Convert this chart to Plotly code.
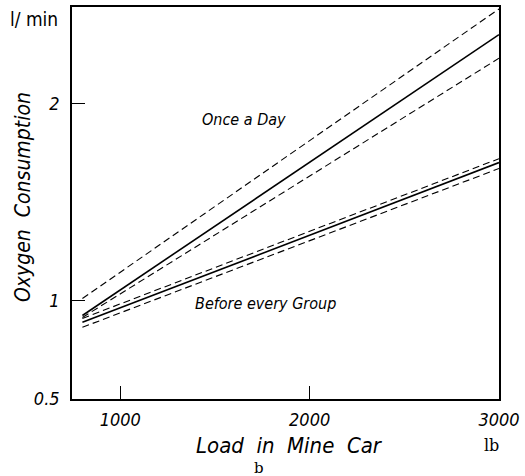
import plotly.graph_objects as go

# Load in mine car (lb)
load = [800, 3000]

# Oxygen consumption (l/min)
once_mean = [0.924, 2.35]
once_upper = [1.01, 2.48]
once_lower = [0.914, 2.23]

group_mean = [0.889, 1.70]
group_upper = [0.909, 1.72]
group_lower = [0.864, 1.67]

x_ticks = [1000, 2000, 3000]
x_tick_labels = ["1000", "2000", "3000"]
y_ticks = [0.5, 1, 2]
y_tick_labels = ["0.5", "1", "2"]

FONT = "DejaVu Sans Condensed"

fig = go.Figure()

def add(y, dash, width):
    fig.add_trace(go.Scatter(x=load, y=y, mode="lines",
                             line=dict(color="black", width=width, dash=dash),
                             showlegend=False, hoverinfo="skip"))

add(once_upper, "7px,4px", 1.1)
add(once_mean, "solid", 1.6)
add(once_lower, "7px,4px", 1.1)
add(group_upper, "7px,4px", 1.1)
add(group_mean, "solid", 1.6)
add(group_lower, "7px,4px", 1.1)

axis_common = dict(showgrid=False, zeroline=False, showline=True, linecolor="black",
                   linewidth=1.6, mirror=True, ticks="inside", ticklen=13,
                   tickcolor="black", tickwidth=1)

fig.update_layout(
    width=525, height=476,
    margin=dict(l=72, r=20, t=5, b=77),
    paper_bgcolor="white", plot_bgcolor="white",
    font=dict(family=FONT, color="black", size=16, style="italic"),
    xaxis=dict(range=[745, 3000], tickvals=x_ticks, ticktext=x_tick_labels,
               tickfont=dict(family=FONT, size=18, style="italic"),
               ticklabelstandoff=4, ticklabeloverflow="allow",
               **axis_common),
    yaxis=dict(range=[0.5, 2.49], tickvals=y_ticks, ticktext=y_tick_labels,
               tickfont=dict(family=FONT, size=18, style="italic"),
               ticklabelstandoff=7, ticklabeloverflow="allow",
               **axis_common),
    annotations=[
        dict(x=0.5, y=0, xref="paper", yref="paper", yanchor="middle", xanchor="center",
             yshift=-46, xshift=4, text="Load  in  Mine  Car", showarrow=False,
             font=dict(family=FONT, size=22, style="italic")),
        dict(x=0, y=0.5, xref="paper", yref="paper", yanchor="middle", xanchor="center",
             xshift=-49, yshift=6, textangle=-90, text="Oxygen  Consumption",
             showarrow=False, font=dict(family=FONT, size=21, style="italic")),
        dict(x=1651, y=1.92, xref="x", yref="y", text="Once a Day", showarrow=False,
             font=dict(family=FONT, size=16, style="italic")),
        dict(x=0, y=0.985, xref="paper", yref="y", xanchor="left", xshift=121,
             text="Before every Group", showarrow=False,
             font=dict(family=FONT, size=16, style="italic")),
        dict(x=0, y=2.43, xref="paper", yref="y", xanchor="right", xshift=-12,
             text="l/ min", showarrow=False,
             font=dict(family=FONT, size=19, style="normal")),
        dict(x=1, y=0, xref="paper", yref="paper", yanchor="middle", xanchor="center",
             yshift=-46, xshift=-8,
             text="lb", showarrow=False,
             font=dict(family="DejaVu Serif", size=16, style="normal")),
        dict(x=0.439, y=0, xref="paper", yref="paper", yanchor="middle", xanchor="center",
             yshift=-69, text="b", showarrow=False,
             font=dict(family="DejaVu Serif", size=15, style="normal")),
    ],
)

fig.write_html("out.html", config={"displayModeBar": False},
               post_script="document.body.style.margin='0px';")
